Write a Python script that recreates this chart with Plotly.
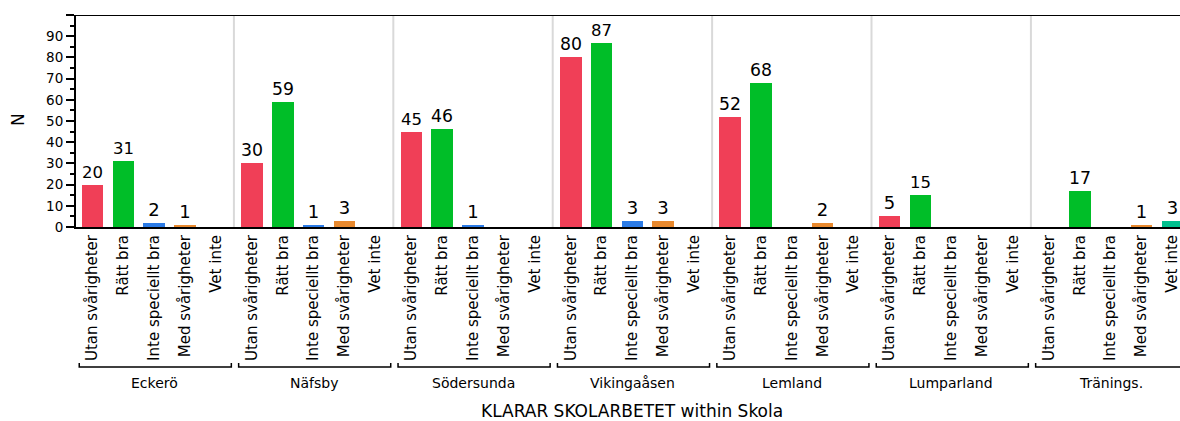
import plotly.graph_objects as go

# KLARAR SKOLARBETET per skola
schools = ["Eckerö", "Näfsby", "Södersunda", "Vikingaåsen", "Lemland", "Lumparland", "Tränings."]
categories = ["Utan svårigheter", "Rätt bra", "Inte speciellt bra", "Med svårigheter", "Vet inte"]

utan_svarigheter = [20, 30, 45, 80, 52, 5, None]
ratt_bra = [31, 59, 46, 87, 68, 15, 17]
inte_speciellt_bra = [2, 1, 1, 3, None, None, None]
med_svarigheter = [1, 3, None, 3, 2, None, 1]
vet_inte = [None, None, None, None, None, None, 3]

series = [utan_svarigheter, ratt_bra, inte_speciellt_bra, med_svarigheter, vet_inte]
colors = ["#F03F57", "#00BE28", "#2B7BE6", "#E8892E", "#00C08E"]

y_ticks = [0, 10, 20, 30, 40, 50, 60, 70, 80, 90, 100]

FONT = "DejaVu Sans"
PERIOD = 5.167  # distance between groups, in slot units
gap = (PERIOD - 4) / 2

traces = []
tickvals = []
ticktext = []
for g, school in enumerate(schools):
    for j, cat in enumerate(categories):
        tickvals.append(g * PERIOD + j)
        ticktext.append(cat)

for j, cat in enumerate(categories):
    xs = [g * PERIOD + j for g in range(len(schools))]
    ys = series[j]
    traces.append(go.Bar(
        x=xs,
        y=[v if v is not None else 0 for v in ys],
        text=[str(v) if v is not None else "" for v in ys],
        textposition="outside",
        textfont=dict(family=FONT, size=18, color="black"),
        cliponaxis=False,
        width=0.7,
        marker=dict(color=colors[j], line=dict(width=0)),
        name=cat,
        showlegend=False,
        hoverinfo="skip",
    ))

fig = go.Figure(data=traces)

shapes = []
# light separators between schools
for g in range(len(schools) - 1):
    xsep = g * PERIOD + 4 + gap
    shapes.append(dict(type="line", xref="x", yref="paper", x0=xsep, x1=xsep, y0=0, y1=1,
                       line=dict(color="#D9D9D9", width=2), layer="below"))
# top border
shapes.append(dict(type="line", xref="paper", yref="y", x0=0, x1=1, y0=100, y1=100,
                   line=dict(color="black", width=2)))
# brackets under the groups
y_top, y_bot = -0.642, -0.660
for g in range(len(schools)):
    x0 = g * PERIOD - 0.43
    x1 = g * PERIOD + 4.5
    shapes.append(dict(type="path", xref="x", yref="paper",
                       path=f"M {x0},{y_top} L {x0},{y_bot} L {x1},{y_bot} L {x1},{y_top}",
                       line=dict(color="black", width=1.5)))

annotations = []
for g, school in enumerate(schools):
    annotations.append(dict(x=g * PERIOD + 2, y=-0.736, xref="x", yref="paper",
                            text=school, showarrow=False, xanchor="center", yanchor="middle",
                            font=dict(family=FONT, size=14, color="black")))
annotations.append(dict(x=0.5036, y=-0.868, xref="paper", yref="paper",
                        text="KLARAR SKOLARBETET within Skola", showarrow=False,
                        xanchor="center", yanchor="middle",
                        font=dict(family=FONT, size=17, color="black")))
annotations.append(dict(x=-0.0525, y=0.505, xref="paper", yref="paper", text="N",
                        showarrow=False, textangle=-90, xanchor="center", yanchor="middle",
                        font=dict(family=FONT, size=17, color="black")))

fig.update_layout(
    width=1180, height=421, autosize=False,
    margin=dict(l=76, r=0, t=15, b=194),
    plot_bgcolor="white", paper_bgcolor="white",
    bargap=0, barmode="overlay",
    shapes=shapes, annotations=annotations,
    xaxis=dict(
        range=[-0.535, -0.535 + 1104 / 30.85],
        tickvals=tickvals, ticktext=ticktext, tickangle=-90,
        tickfont=dict(family=FONT, size=15, color="black"),
        ticklabeloverflow="allow",
        showline=True, linecolor="black", linewidth=2,
        ticks="", showgrid=False, zeroline=False, automargin=False,
    ),
    yaxis=dict(
        range=[0, 100],
        tickvals=y_ticks, ticktext=[str(v) if v < 100 else "" for v in y_ticks],
        tickfont=dict(family=FONT, size=13.5, color="black"),
        ticks="outside", ticklen=8, tickwidth=1.5, tickcolor="black",
        minor=dict(dtick=5, ticks="outside", ticklen=4, tickwidth=1.5, tickcolor="black"),
        showline=True, linecolor="black", linewidth=2,
        showgrid=False, zeroline=False, automargin=False,
    ),
)

# drop the default 8px body margin so the figure fills the window exactly
fig.write_html("out.html", config={"displayModeBar": False},
               post_script="document.body.style.margin='0';")
